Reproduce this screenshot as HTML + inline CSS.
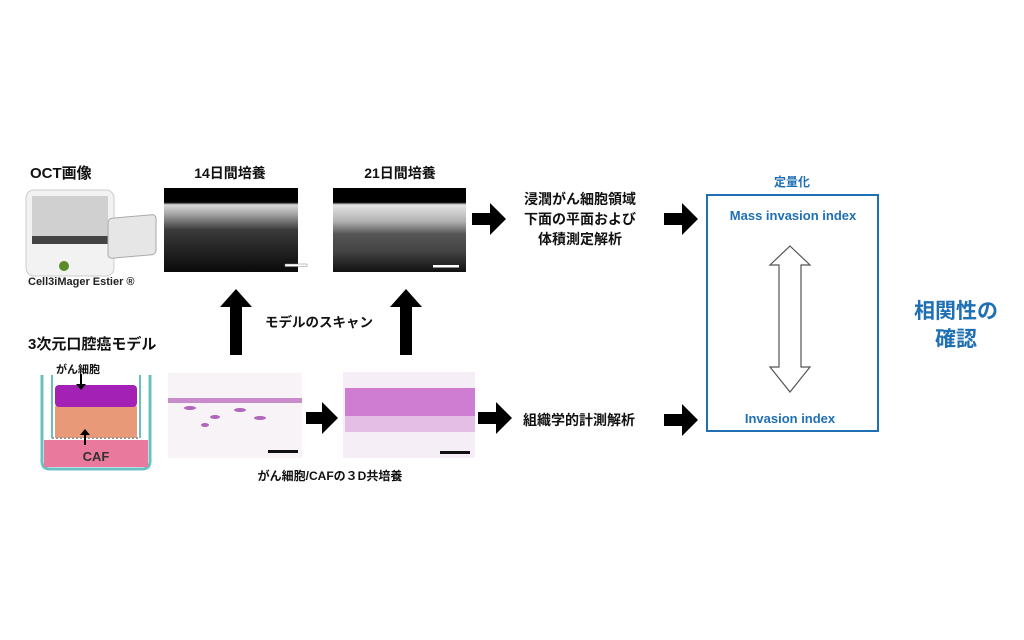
<!DOCTYPE html>
<html><head><meta charset="utf-8"><style>
html,body{margin:0;padding:0;background:#fff;}
svg{display:block;}
text{font-family:"Liberation Sans","Noto Sans CJK JP",sans-serif;font-weight:bold;}
</style></head><body>
<svg width="1024" height="640" viewBox="0 0 1024 640" xmlns="http://www.w3.org/2000/svg">
<defs>
<linearGradient id="oct1" x1="0" y1="0" x2="0" y2="1"><stop offset="0" stop-color="#000"/><stop offset="0.17" stop-color="#000"/><stop offset="0.2" stop-color="#d8d8d8"/><stop offset="0.3" stop-color="#aaa"/><stop offset="0.5" stop-color="#3a3a3a"/><stop offset="1" stop-color="#0a0a0a"/></linearGradient>
<linearGradient id="oct2" x1="0" y1="0" x2="0" y2="1"><stop offset="0" stop-color="#000"/><stop offset="0.17" stop-color="#000"/><stop offset="0.2" stop-color="#e5e5e5"/><stop offset="0.4" stop-color="#b0b0b0"/><stop offset="0.55" stop-color="#555"/><stop offset="0.75" stop-color="#444"/><stop offset="1" stop-color="#111"/></linearGradient>
</defs>
<text x="30" y="178" font-size="15" fill="#111">OCT画像</text>
<text x="230" y="178" font-size="14" fill="#111" text-anchor="middle">14日間培養</text>
<text x="400" y="178" font-size="14" fill="#111" text-anchor="middle">21日間培養</text>
<!-- machine -->
<rect x="26" y="190" width="88" height="86" rx="8" fill="#f2f2f2" stroke="#ccc"/>
<rect x="32" y="196" width="76" height="40" fill="#d0d0d0"/>
<rect x="32" y="236" width="76" height="8" fill="#444"/>
<circle cx="64" cy="266" r="5" fill="#5a8a2a"/>
<rect x="108" y="228" width="48" height="40" rx="4" fill="#e6e6e6" stroke="#aaa" transform="skewY(-5)"/>
<text x="28" y="285" font-size="11" fill="#222">Cell3iMager Estier ®</text>
<rect x="164" y="188" width="134" height="84" fill="url(#oct1)"/>
<rect x="285" y="264" width="22" height="2.5" fill="#fff" stroke="#888" stroke-width="0.5"/>
<rect x="333" y="188" width="133" height="84" fill="url(#oct2)"/>
<rect x="433" y="265" width="26" height="2.5" fill="#fff"/>
<g fill="#000">
<path d="M472 213h18v-10l16 16-16 16v-10h-18z"/>
<path d="M664 213h18v-10l16 16-16 16v-10h-18z"/>
<path d="M306 412h16v-10l16 16-16 16v-10h-16z"/>
<path d="M478 412h18v-10l16 16-16 16v-10h-18z"/>
<path d="M664 414h18v-10l16 16-16 16v-10h-18z"/>
<path d="M230 355v-48h-10l16-18 16 18h-10v48z"/>
<path d="M400 355v-48h-10l16-18 16 18h-10v48z"/>
</g>
<text x="580" y="204" font-size="14" fill="#111" text-anchor="middle">浸潤がん細胞領域</text>
<text x="580" y="224" font-size="14" fill="#111" text-anchor="middle">下面の平面および</text>
<text x="580" y="244" font-size="14" fill="#111" text-anchor="middle">体積測定解析</text>
<text x="265" y="327" font-size="13.5" fill="#111">モデルのスキャン</text>
<text x="523" y="425" font-size="14" fill="#111">組織学的計測解析</text>
<text x="792" y="186" font-size="12" fill="#1f6fb5" text-anchor="middle">定量化</text>
<rect x="707" y="195" width="171" height="236" fill="none" stroke="#1f6fb5" stroke-width="2"/>
<text x="793" y="220" font-size="13" fill="#1f6fb5" text-anchor="middle">Mass invasion index</text>
<text x="790" y="423" font-size="13" fill="#1f6fb5" text-anchor="middle">Invasion index</text>
<path d="M790 246l20 19h-9v102h9l-20 25-20-25h9v-102h-9z" fill="#fff" stroke="#555" stroke-width="1.2"/>
<text x="956" y="318" font-size="21" fill="#1f6fb5" text-anchor="middle">相関性の</text>
<text x="956" y="346" font-size="21" fill="#1f6fb5" text-anchor="middle">確認</text>
<text x="28" y="349" font-size="15" fill="#111">3次元口腔癌モデル</text>
<text x="56" y="373" font-size="11" fill="#111">がん細胞</text>
<path d="M42 375v86q0 8 8 8h92q8 0 8-8v-86" fill="none" stroke="#6bbfc3" stroke-width="3"/>
<rect x="44" y="440" width="104" height="27" fill="#e9799d"/>
<rect x="55" y="406" width="82" height="32" fill="#e89a78"/>
<rect x="55" y="385" width="82" height="22" rx="4" fill="#a321b5"/>
<line x1="52" y1="375" x2="52" y2="438" stroke="#6bbfc3" stroke-width="2"/>
<line x1="140" y1="375" x2="140" y2="438" stroke="#6bbfc3" stroke-width="2"/>
<line x1="52" y1="438" x2="140" y2="438" stroke="#999" stroke-width="2" stroke-dasharray="2 2"/>
<path d="M80 374v10h-4l5 6 5-6h-4v-10z" fill="#000"/>
<path d="M84 445v-10h-4l5-6 5 6h-4v10z" fill="#000"/>
<text x="96" y="461" font-size="13" fill="#333" text-anchor="middle">CAF</text>
<rect x="168" y="373" width="134" height="85" fill="#f7f3f7"/>
<rect x="168" y="398" width="134" height="5" fill="#c98ccb"/>
<g fill="#b066bb"><ellipse cx="190" cy="408" rx="6" ry="2"/><ellipse cx="215" cy="417" rx="5" ry="2"/><ellipse cx="240" cy="410" rx="6" ry="2"/><ellipse cx="260" cy="418" rx="6" ry="2"/><ellipse cx="205" cy="425" rx="4" ry="2"/></g>
<rect x="268" y="450" width="30" height="3" fill="#111"/>
<rect x="343" y="372" width="132" height="86" fill="#f6eef6"/>
<rect x="345" y="388" width="130" height="28" fill="#cf7dd2"/>
<rect x="345" y="416" width="130" height="16" fill="#ddaade" opacity="0.7"/>
<rect x="440" y="451" width="30" height="3" fill="#111"/>
<text x="330" y="480" font-size="12" fill="#111" text-anchor="middle">がん細胞/CAFの３D共培養</text>
</svg>
</body></html>
